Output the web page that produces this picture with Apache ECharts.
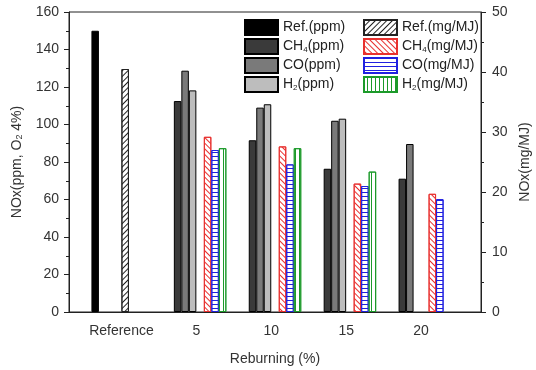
<!DOCTYPE html>
<html>
<head>
<meta charset="utf-8">
<script src="https://cdn.jsdelivr.net/npm/echarts@6/dist/echarts.min.js"></script>
<style>
  html, body { margin: 0; padding: 0; background: #fff; }
  #myChart { width: 536px; height: 370px; }
</style>
</head>
<body>
<div id="myChart"></div>
<script>
// reburning ratio (%), Reference is drawn at 0
var categories = ['Reference', '5', '10', '15', '20'];
var reburning = [0, 5, 10, 15, 20];

// NOx (ppm, O2 4%)
var refPpm = [150, null, null, null, null];
var ch4Ppm = [null, 112.5, 91.6, 76.4, 71.1];
var coPpm = [null, 128.7, 109, 102, 89.6];
var h2Ppm = [null, 118.2, 110.8, 103.1, null];

// NOx (mg/MJ)
var refMg = [40.5, null, null, null, null];
var ch4Mg = [null, 29.2, 27.6, 21.4, 19.7];
var coMg = [null, 27.0, 24.6, 21.0, 18.8];
var h2Mg = [null, 27.3, 27.3, 23.4, null];

var leftTicks = [0, 160, 20];
var rightTicks = [0, 50, 10];

function pairs(vals) {
  return reburning.map(function (x, i) { return [x, vals[i]] })
}

function ppmBar(name, data, color) {
  return {
    name: name, type: 'bar', yAxisIndex: 0, barWidth: 7.5, barGap: '0%',
    itemStyle: {color: color, borderColor: '#000', borderWidth: 1},
    data: pairs(data)
  }
}

function mgBar(name, data, color, rot) {
  return {
    name: name, type: 'bar', yAxisIndex: 1, barWidth: 7.5, barGap: '0%',
    itemStyle: {
      color: '#fff', borderColor: color, borderWidth: 1,
      decal: {symbol: 'rect', symbolSize: 1, color: color,
        dashArrayX: [1, 0], dashArrayY: [1, 2.5], rotation: rot}
    },
    data: pairs(data)
  }
}

var rich = {
  n: {fontSize: 14, fontFamily: 'Liberation Sans', color: '#222'},
  s: {fontSize: 8, fontFamily: 'Liberation Sans', color: '#222', verticalAlign: 'bottom', padding: [6, 0, 0, 0]}
};
function subFmt(name) {
  var m = name.match(/^([A-Za-z]+)(\d)(.*)$/);
  if (m) return '{n|' + m[1] + '}{s|' + m[2] + '}{n|' + m[3] + '}';
  return '{n|' + name + '}';
}

var axisFont = {fontSize: 14, fontFamily: 'Liberation Sans', color: '#333'};

var option = {
  animation: false,
  grid: {left: 69, right: 55, top: 12, bottom: 58, outerBoundsMode: 'none',
    show: true, borderColor: '#222', borderWidth: 1},
  legend: [
    {data: ['Ref.(ppm)', 'CH4(ppm)', 'CO(ppm)', 'H2(ppm)'], orient: 'vertical', left: 239, top: 14,
      icon: 'rect', itemWidth: 33, itemHeight: 15, itemGap: 2, formatter: subFmt, textStyle: {rich: rich}},
    {data: ['Ref.(mg/MJ)', 'CH4(mg/MJ)', 'CO(mg/MJ)', 'H2(mg/MJ)'], orient: 'vertical', left: 358, top: 14,
      icon: 'rect', itemWidth: 33, itemHeight: 15, itemGap: 2, formatter: subFmt, textStyle: {rich: rich}}
  ],
  xAxis: {
    type: 'value', min: -3.5, max: 24,
    name: 'Reburning (%)', nameLocation: 'middle', nameGap: 40,
    nameTextStyle: {fontSize: 14, fontFamily: 'Liberation Sans', color: '#333'},
    axisLine: {lineStyle: {color: '#222'}},
    axisTick: {show: false},
    splitLine: {show: false},
    axisLabel: Object.assign({
      customValues: reburning, margin: 12,
      formatter: function (v) { return categories[reburning.indexOf(v)] }
    }, axisFont)
  },
  yAxis: [
    {
      type: 'value', min: leftTicks[0], max: leftTicks[1], interval: leftTicks[2],
      name: 'NOx(ppm, O{s|2} 4%)', nameLocation: 'middle', nameGap: 45,
      nameTextStyle: {fontSize: 14, fontFamily: 'Liberation Sans', color: '#333',
        rich: {s: {fontSize: 9, fontFamily: 'Liberation Sans', color: '#333', padding: [0, 0, 0, 0], verticalAlign: 'bottom'}}},
      axisLine: {show: true, onZero: false, lineStyle: {color: '#222'}},
      axisTick: {show: true, length: 5, lineStyle: {color: '#222'}},
      minorTick: {show: true, splitNumber: 2, length: 3, lineStyle: {color: '#222'}},
      splitLine: {show: false},
      axisLabel: Object.assign({margin: 10}, axisFont)
    },
    {
      type: 'value', min: rightTicks[0], max: rightTicks[1], interval: rightTicks[2],
      name: 'NOx(mg/MJ)', nameLocation: 'middle', nameGap: 37, nameRotate: 90,
      nameTextStyle: {fontSize: 14, fontFamily: 'Liberation Sans', color: '#333'},
      axisLine: {show: true, onZero: false, lineStyle: {color: '#222'}},
      axisTick: {show: true, length: 5, lineStyle: {color: '#222'}},
      minorTick: {show: true, splitNumber: 2, length: 3, lineStyle: {color: '#222'}},
      splitLine: {show: false},
      axisLabel: Object.assign({margin: 11}, axisFont)
    }
  ],
  series: [
    ppmBar('Ref.(ppm)', refPpm, '#000'),
    ppmBar('CH4(ppm)', ch4Ppm, '#3a3a3a'),
    ppmBar('CO(ppm)', coPpm, '#7a7a7a'),
    ppmBar('H2(ppm)', h2Ppm, '#bdbdbd'),
    mgBar('Ref.(mg/MJ)', refMg, '#222', -Math.PI / 4),
    mgBar('CH4(mg/MJ)', ch4Mg, '#e8312f', Math.PI / 4),
    mgBar('CO(mg/MJ)', coMg, '#2020e0', 0),
    mgBar('H2(mg/MJ)', h2Mg, '#1c9a2a', Math.PI / 2)
  ]
};

var myChart = echarts.init(document.getElementById('myChart'));
myChart.setOption(option);
</script>
</body>
</html>
